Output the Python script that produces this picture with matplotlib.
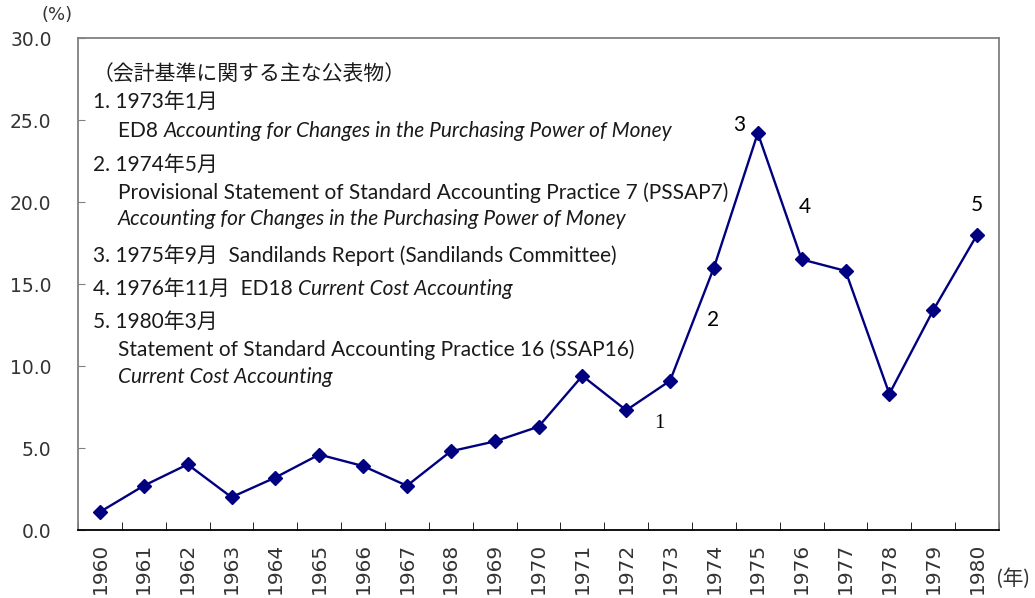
import numpy as np
import matplotlib.pyplot as plt

years = [str(y) for y in range(1960, 1981)]
rate = [1.1, 2.7, 4.0, 2.0, 3.2, 4.6, 3.9, 2.7, 4.8, 5.4, 6.3,
        9.4, 7.3, 9.1, 16.0, 24.2, 16.5, 15.8, 8.3, 13.4, 18.0]
yticks = [0, 5, 10, 15, 20, 25, 30]

# event numbers and where they sit (category position, value)
ev_labels = ['1', '2', '3', '4', '5']
ev_pos = [(12.75, 6.5), (13.98, 12.8), (14.57, 24.7), (16.08, 19.7), (20.0, 19.8)]

JP = ['Lato', 'Noto Sans CJK JP']
TXT = '#1a1a1a'

# note lines: list of (text, style) pieces, indent
notes = [
    ([('（会計基準に関する主な公表物）', 'normal')], 0),
    ([('1. 1973年1月', 'normal')], 0),
    ([('ED8 ', 'normal'), ('Accounting for Changes in the Purchasing Power of Money', 'italic')], 1),
    ([('2. 1974年5月', 'normal')], 0),
    ([('Provisional Statement of Standard Accounting Practice 7 (PSSAP7)', 'normal')], 1),
    ([('Accounting for Changes in the Purchasing Power of Money', 'italic')], 1),
    ([('3. 1975年9月  Sandilands Report (Sandilands Committee)', 'normal')], 0),
    ([('4. 1976年11月  ED18 ', 'normal'), ('Current Cost Accounting', 'italic')], 0),
    ([('5. 1980年3月', 'normal')], 0),
    ([('Statement of Standard Accounting Practice 16 (SSAP16)', 'normal')], 1),
    ([('Current Cost Accounting', 'italic')], 1),
]
note_y = [80, 108, 137, 171, 199, 225, 262, 295, 328, 356, 383]

W, H = 1035, 598
fig = plt.figure(figsize=(W / 100, H / 100), dpi=100)
ax = fig.add_axes([78 / W, 1 - 530 / H, (999 - 78) / W, (530 - 38) / H])

x = np.arange(len(years))
ax.plot(x, rate, color='#000080', lw=1.7, marker='D', ms=7, zorder=3)

ax.set_xlim(-0.5, len(years) - 0.5)
ax.set_ylim(0, 30)
ax.set_yticks(yticks)
ax.set_yticklabels([f'{v:.1f}' for v in yticks], fontsize=13.5,
                   family='DejaVu Sans', color='#333333')
ax.set_xticks(x)
ax.set_xticklabels(years, rotation=90, fontsize=14.5, family='DejaVu Sans',
                   color='#333333', va='top')
ax.set_xticks(np.arange(-0.5, len(years)), minor=True)
ax.tick_params(axis='x', which='major', length=0, pad=9)
ax.tick_params(axis='x', which='minor', direction='in', length=6, color='black')
ax.tick_params(axis='y', direction='in', length=5, color='#808080', pad=19)

for s in ['left', 'top', 'right']:
    ax.spines[s].set_color('#808080')
    ax.spines[s].set_linewidth(1.3)
ax.spines['bottom'].set_color('black')
ax.spines['bottom'].set_linewidth(1.3)

for lab, (px, py) in zip(ev_labels, ev_pos):
    fam = 'Liberation Serif' if lab == '1' else 'Lato'
    ax.text(px, py, lab, ha='center', va='center', fontsize=15,
            family=fam, color='black')

fig.text(57 / W, 1 - 15 / H, '(%)', fontsize=13, family='DejaVu Sans',
         ha='center', va='center', color='#333333')
fig.text(1013 / W, 1 - 578 / H, '(年)', fontsize=15, family=JP,
         ha='center', va='center', color='#333333')

# notes, pieces laid out one after another
fig.canvas.draw()
r = fig.canvas.get_renderer()
for (pieces, ind), yy in zip(notes, note_y):
    px = 93 if ind == 0 else 118
    for txt, st in pieces:
        t = fig.text(px / W, 1 - yy / H, txt, fontsize=15, family=JP,
                     style=st, color=TXT, ha='left', va='baseline')
        bb = t.get_window_extent(renderer=r)
        px = bb.x1

fig.savefig('out.png', dpi=100)
